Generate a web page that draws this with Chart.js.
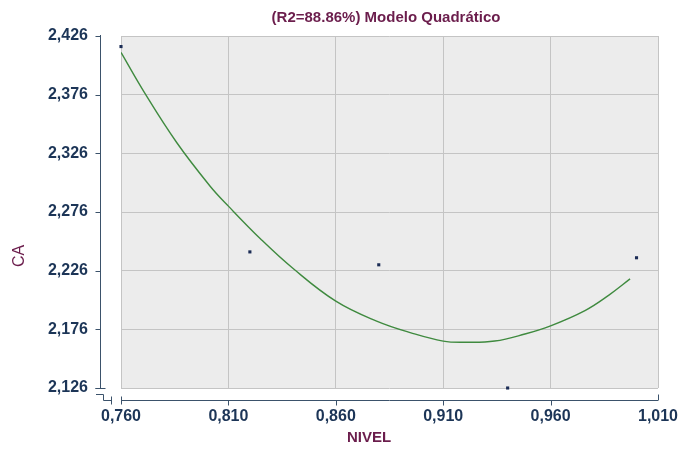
<!DOCTYPE html>
<html>
<head>
<meta charset="utf-8">
<script src="https://cdn.jsdelivr.net/npm/chart.js@4"></script>
<style>
html,body{margin:0;padding:0;background:#fff;}
canvas{display:block;}
</style>
</head>
<body>
<canvas id="c" width="690" height="450"></canvas>
<script>
// ---- data ----
const chartTitle = "(R2=88.86%) Modelo Quadrático";
const xTitle = "NIVEL";
const yTitle = "CA";
const xTicks = [0.760, 0.810, 0.860, 0.910, 0.960, 1.010];
const yTicks = [2.126, 2.176, 2.226, 2.276, 2.326, 2.376, 2.426];
const obsX = [0.760, 0.820, 0.880, 0.940, 1.000];
const obsY = [2.417, 2.242, 2.231, 2.126, 2.237];
const fitX = [0.760, 0.7705, 0.786, 0.8015, 0.810, 0.825, 0.840, 0.860, 0.879, 0.895, 0.910, 0.920, 0.934, 0.948, 0.960, 0.976, 0.987, 0.997];
const fitY = [2.412, 2.379, 2.335, 2.298, 2.281, 2.253, 2.228, 2.200, 2.183, 2.173, 2.166, 2.165, 2.166, 2.172, 2.179, 2.192, 2.205, 2.219];

const fmt = v => v.toFixed(3).replace('.', ',');
const FONT = "'Liberation Sans', Arial, sans-serif";
const tickColor = '#1c3557';
const titleColor = '#6b1d4c';
const axisColor = '#3b526b';

const decor = {
  id: 'decor',
  beforeDraw(chart) {
    const a = chart.chartArea, ctx = chart.ctx;
    ctx.save();
    ctx.fillStyle = '#ececec';
    ctx.fillRect(a.left, a.top, a.right - a.left, a.bottom - a.top);
    ctx.restore();
  },
  afterDraw(chart) {
    const ctx = chart.ctx, xs = chart.scales.x, ys = chart.scales.y;
    ctx.save();
    ctx.strokeStyle = axisColor;
    ctx.lineWidth = 1;
    // y axis (offset left)
    const ax = 100.5;
    const yTop = ys.getPixelForValue(yTicks[yTicks.length - 1]);
    const yBot = ys.getPixelForValue(yTicks[0]);
    ctx.beginPath();
    ctx.moveTo(ax, yTop - 1); ctx.lineTo(ax, yBot);
    yTicks.forEach(v => {
      const p = Math.round(ys.getPixelForValue(v)) + 0.5;
      ctx.moveTo(ax - 5, p); ctx.lineTo(ax, p);
    });
    ctx.moveTo(ax - 5, Math.round(yBot) + 0.5); ctx.lineTo(ax + 5, Math.round(yBot) + 0.5);
    ctx.stroke();
    // x axis (offset below)
    const ay = Math.round(yBot) + 12.5;
    const xL = xs.getPixelForValue(xTicks[0]);
    const xR = xs.getPixelForValue(xTicks[xTicks.length - 1]);
    ctx.beginPath();
    ctx.moveTo(xL, ay); ctx.lineTo(xR, ay);
    xTicks.forEach((v, i) => {
      const p = Math.round(xs.getPixelForValue(v)) + 0.5;
      if (i === 0) { ctx.moveTo(p, ay - 4); ctx.lineTo(p, ay + 4); }
      else if (i === xTicks.length - 1) { ctx.moveTo(p, ay); ctx.lineTo(p, ay - 6); }
      else { ctx.moveTo(p, ay); ctx.lineTo(p, ay + 5); }
    });
    // axis break symbol
    ctx.moveTo(96, ay - 6); ctx.lineTo(103.5, ay - 6); ctx.lineTo(103.5, ay); ctx.lineTo(111.5, ay);
    ctx.moveTo(111.5, ay - 4); ctx.lineTo(111.5, ay + 4);
    ctx.stroke();
    // titles
    ctx.fillStyle = titleColor;
    ctx.textAlign = 'center';
    ctx.textBaseline = 'middle';
    ctx.font = 'bold 15px ' + FONT;
    ctx.fillText(chartTitle, 386, 18);
    ctx.fillText(xTitle, 369, 438);
    ctx.translate(20, 256);
    ctx.rotate(-Math.PI / 2);
    ctx.font = '16px ' + FONT;
    ctx.fillText(yTitle, 0, 0);
    ctx.restore();
  }
};

new Chart(document.getElementById('c'), {
  type: 'scatter',
  data: {
    datasets: [
      {
        label: 'fit',
        data: fitX.map((x, i) => ({ x, y: fitY[i] })),
        showLine: true,
        borderColor: '#3f8a3f',
        borderWidth: 1.4,
        pointRadius: 0,
        tension: 0.4,
        fill: false
      },
      {
        label: 'obs',
        data: obsX.map((x, i) => ({ x, y: obsY[i] })),
        pointStyle: 'rect',
        pointRadius: 2.2,
        pointBorderWidth: 0,
        backgroundColor: '#1b2c55',
        borderColor: '#1b2c55',
        clip: false
      }
    ]
  },
  options: {
    responsive: false,
    animation: false,
    layout: { padding: { top: 36, right: 32, left: 0, bottom: 0 } },
    plugins: { legend: { display: false }, tooltip: { enabled: false }, title: { display: false } },
    scales: {
      x: {
        type: 'linear',
        min: xTicks[0], max: xTicks[xTicks.length - 1],
        afterBuildTicks: s => { s.ticks = xTicks.map(v => ({ value: v })); },
        afterFit: s => { s.height = 62; s.paddingLeft = 0; s.paddingRight = 0; },
        border: { display: false },
        grid: { color: '#c4c4c4', drawTicks: false, lineWidth: 1 },
        ticks: { padding: 19, color: tickColor, font: { family: FONT, size: 16, weight: 'bold' }, callback: v => fmt(v), maxRotation: 0, autoSkip: false }
      },
      y: {
        type: 'linear',
        min: yTicks[0], max: yTicks[yTicks.length - 1],
        afterBuildTicks: s => { s.ticks = yTicks.map(v => ({ value: v })); },
        afterFit: s => { s.width = 121; s.paddingTop = 0; s.paddingBottom = 0; },
        border: { display: false },
        grid: { color: '#c4c4c4', drawTicks: false, lineWidth: 1 },
        ticks: { padding: 33, color: tickColor, font: { family: FONT, size: 16, weight: 'bold' }, callback: v => fmt(v), autoSkip: false }
      }
    }
  },
  plugins: [decor]
});
</script>
</body>
</html>
